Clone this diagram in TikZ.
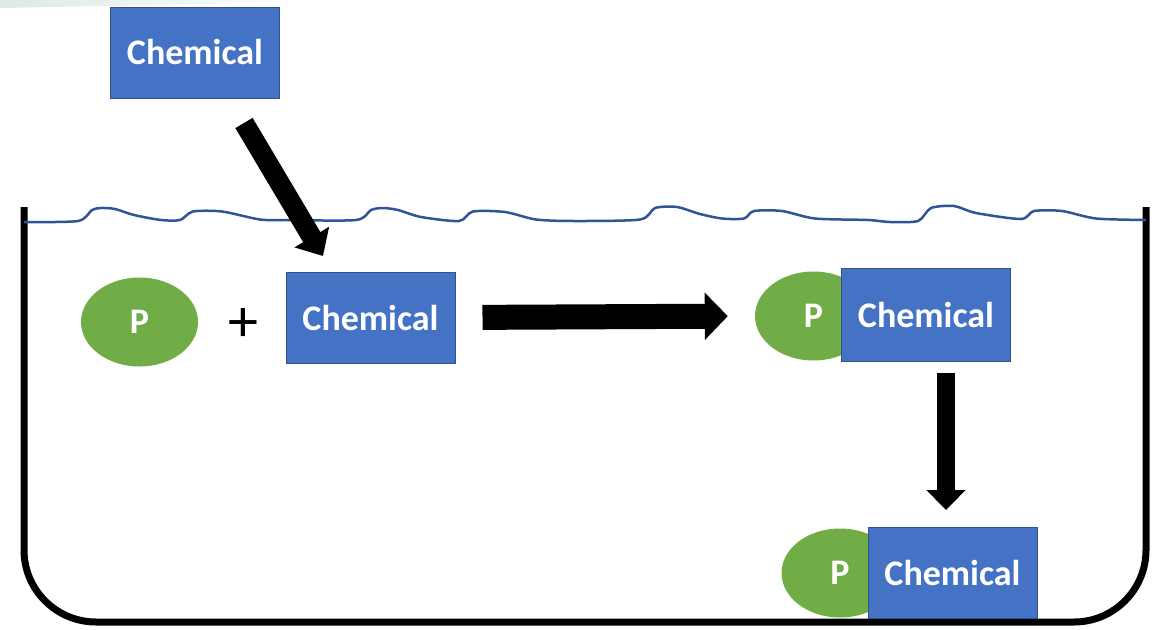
\documentclass[tikz,border=0pt]{standalone}
\usepackage{fontspec}
\setmainfont{Carlito}
\usetikzlibrary{arrows.meta, shapes.geometric, positioning}

\definecolor{chemblue}{HTML}{4472C4}
\definecolor{chemedge}{HTML}{2F528F}
\definecolor{pgreen}{HTML}{70AD47}
\definecolor{waterblue}{HTML}{2F5597}
\definecolor{haze}{HTML}{DDE9E3}

\begin{document}
\begin{tikzpicture}[x=1pt, y=-1pt]

	\tikzstyle{chem}=[rectangle, draw=chemedge, line width=1pt, fill=chemblue, text=white, font=\fontsize{36}{40}\selectfont\bfseries, minimum width=169pt, minimum height=91pt, inner sep=0pt]
	\tikzstyle{prot}=[ellipse, fill=pgreen, text=white, font=\fontsize{36}{40}\selectfont\bfseries, minimum width=117pt, minimum height=89pt, inner sep=0pt]
	\tikzstyle{tank}=[line width=7pt, rounded corners=72pt]
	\tikzstyle{water}=[waterblue, line width=2.5pt, line join=round]

	\useasboundingbox (0,0) rectangle (1166,629);

	\shade[left color=haze, right color=white] (0,0) -- (310,0) -- (310,2) -- (0,8) -- cycle;

	\coordinate (c_top) at (195, 52.5);
	\coordinate (p_in) at (139.5, 322); % LEFT SIDE
	\coordinate (c_in) at (370.5, 317.5); % LEFT SIDE
	\coordinate (p_mid) at (813.5, 316); % BOUND
	\coordinate (c_mid) at (926, 314.5); % BOUND
	\coordinate (p_low) at (840, 573); % SETTLED
	\coordinate (c_low) at (952.5, 572.5); % SETTLED

	% tank and water
	\draw[tank] (24,207) -- (24,622) -- (1146,622) -- (1146,207);
	\draw[water] plot[smooth, tension=0.45] coordinates {(24,222) (78,221) (92,210) (101,208) (115,209) (134,215) (161,220) (180,220) (193,211.5) (222,211.5) (260,219.5) (287,220) (356,220) (371,210) (383,208) (398,210) (421,217) (459,221) (473,211.5) (505,212) (536,219.5) (574,221) (640,219.5) (655,208) (677,207) (700,214) (722,218.5) (744,218.5) (754,211) (782,211) (815,218.5) (868,220) (890,222) (918,221) (931,208) (954,206) (976,213) (1021,219) (1034,211) (1062,211) (1096,218.5) (1146,220)};

	\node[chem] (c_top) at (c_top) {Chemical};
	\node[prot] (p_in) at (p_in) {P};
	\node[font=\fontsize{60}{60}\selectfont] (plus) at (243, 325) {+};
	\node[chem] (c_in) at (c_in) {Chemical};
	\node[prot] (p_mid) at (p_mid) {P};
	\node[chem, minimum height=93pt] (c_mid) at (c_mid) {Chemical};
	\node[prot] (p_low) at (p_low) {P};
	\node[chem] (c_low) at (c_low) {Chemical};

	\coordinate (drop_a) at (244, 123);
	\coordinate (drop_b) at (323, 256);
	\coordinate (sink_a) at (946, 373);
	\coordinate (sink_b) at (946, 510);

	\draw[line width=20pt, -{Triangle[width=39pt, length=22pt]}] (drop_a) -- (drop_b);
	\draw[line width=25pt, -{Triangle[width=46pt, length=23pt]}, shorten <=27pt, shorten >=27pt] (c_in.east) -- (p_mid.west);
	\draw[line width=18pt, -{Triangle[width=38pt, length=20pt]}] (sink_a) -- (sink_b);

\end{tikzpicture}
\end{document}
